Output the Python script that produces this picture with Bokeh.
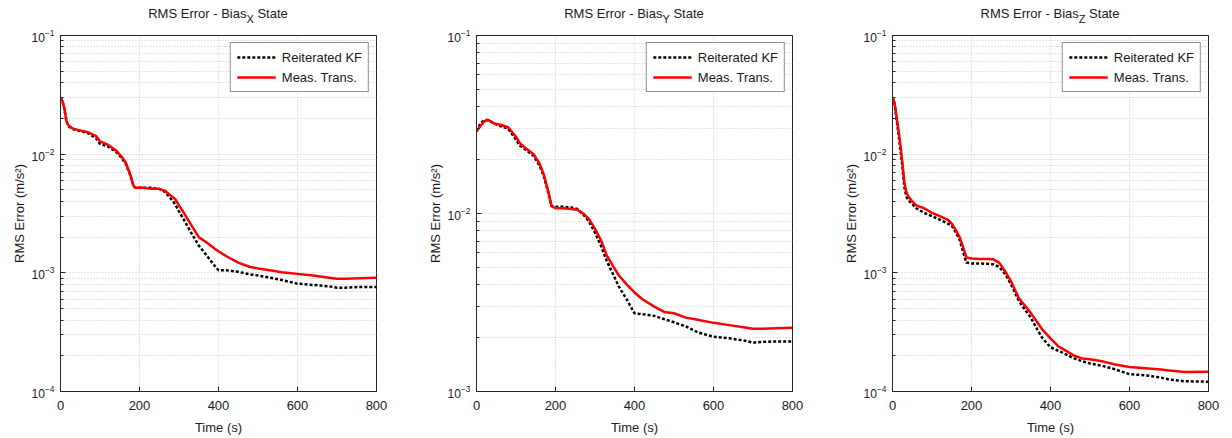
from bokeh.plotting import figure
from bokeh.layouts import row, column
from bokeh.models import FixedTicker, Div
from bokeh.embed import file_html
from bokeh.resources import INLINE

# ---------------- data ----------------
series_names = ["Reiterated KF", "Meas. Trans."]
panel_subs = ["X", "Y", "Z"]
x_ticks = [0, 200, 400, 600, 800]

t_x = [0, 5, 10, 15, 20, 30, 50, 70, 90, 100, 120, 140, 155, 165, 175, 185, 190, 210, 230, 250,
       265, 275, 290, 300, 315, 330, 350, 370, 390, 400, 420, 450, 480, 500, 530, 560, 600, 640,
       680, 700, 720, 760, 800]
mt_x = [0.030, 0.028, 0.024, 0.019, 0.0175, 0.0165, 0.0158, 0.0153, 0.0142, 0.0128, 0.0120, 0.0108,
        0.0095, 0.0085, 0.0070, 0.0054, 0.0052, 0.0052, 0.0051, 0.0051, 0.0049, 0.0046, 0.0042,
        0.0037, 0.0031, 0.00256, 0.0020, 0.0018, 0.0016, 0.00152, 0.00138, 0.00122, 0.00112,
        0.00109, 0.00105, 0.00101, 0.00098, 0.00095, 0.00091, 0.00089, 0.00089, 0.00090, 0.00091]
rkf_x = [0.030, 0.028, 0.024, 0.019, 0.0172, 0.0163, 0.0157, 0.0150, 0.0136, 0.0122, 0.0116, 0.0105,
         0.0093, 0.0083, 0.0069, 0.0054, 0.0052, 0.0052, 0.0052, 0.0051, 0.0048, 0.0044, 0.0038,
         0.0033, 0.0027, 0.0022, 0.0017, 0.0014, 0.00115, 0.00105, 0.00105, 0.00102, 0.00097,
         0.00095, 0.00091, 0.00087, 0.00081, 0.00079, 0.00077, 0.00075, 0.00075, 0.00076, 0.00076]

t_y = [0, 10, 20, 30, 45, 60, 80, 100, 110, 125, 145, 160, 170, 180, 190, 200, 220, 240, 255, 270,
       285, 300, 315, 330, 345, 360, 380, 400, 420, 450, 475, 500, 530, 560, 600, 640, 680, 700,
       720, 760, 800]
mt_y = [0.029, 0.031, 0.033, 0.0335, 0.032, 0.0315, 0.0305, 0.027, 0.0248, 0.0232, 0.0215, 0.019,
        0.0167, 0.0138, 0.0110, 0.0107, 0.0107, 0.0106, 0.0105, 0.0100, 0.0093, 0.0082, 0.0071,
        0.0058, 0.0051, 0.0045, 0.0040, 0.0036, 0.0033, 0.0030, 0.0028, 0.00275, 0.0026, 0.00253,
        0.00243, 0.00236, 0.00229, 0.00225, 0.00225, 0.00227, 0.00228]
rkf_y = [0.029, 0.032, 0.0335, 0.0335, 0.032, 0.031, 0.030, 0.026, 0.0240, 0.0228, 0.021, 0.0185,
         0.0163, 0.0135, 0.0110, 0.0109, 0.0109, 0.0108, 0.0106, 0.0099, 0.0090, 0.0078, 0.0066,
         0.0054, 0.0046, 0.0039, 0.0033, 0.00275, 0.00272, 0.00266, 0.00255, 0.00245, 0.00232,
         0.00215, 0.00203, 0.00199, 0.00193, 0.00188, 0.00190, 0.00191, 0.00191]

t_z = [0, 5, 10, 15, 20, 25, 30, 35, 40, 50, 60, 80, 100, 120, 140, 150, 160, 170, 180, 187, 200,
       220, 240, 255, 270, 285, 300, 320, 335, 350, 365, 380, 400, 420, 440, 460, 480, 500, 530,
       560, 600, 640, 680, 700, 740, 800]
mt_z = [0.030, 0.027, 0.021, 0.016, 0.0120, 0.0085, 0.0058, 0.0048, 0.0044, 0.0040, 0.0037, 0.0035,
        0.0032, 0.0030, 0.0028, 0.0026, 0.0023, 0.0020, 0.0016, 0.00135, 0.00132, 0.00131, 0.00131,
        0.00130, 0.00122, 0.00103, 0.00085, 0.00061, 0.00053, 0.00046, 0.00039, 0.00033, 0.00028,
        0.00024, 0.00022, 0.00020, 0.00019, 0.000187, 0.00018, 0.00017, 0.000161, 0.000157,
        0.000153, 0.00015, 0.000146, 0.000147]
rkf_z = [0.030, 0.027, 0.020, 0.015, 0.0110, 0.0078, 0.0053, 0.0044, 0.0041, 0.0038, 0.0035, 0.0032,
         0.0030, 0.0028, 0.0026, 0.0025, 0.0022, 0.0019, 0.00145, 0.00122, 0.0012, 0.0012, 0.00119,
         0.00118, 0.00112, 0.00098, 0.0008, 0.00058, 0.00049, 0.00042, 0.00034, 0.00028, 0.000236,
         0.00022, 0.000205, 0.00019, 0.00018, 0.000172, 0.000165, 0.000155, 0.00014, 0.000137,
         0.000131, 0.000126, 0.000122, 0.000121]

y_limits = [(1e-4, 1e-1), (1e-3, 1e-1), (1e-4, 1e-1)]

FONT = "Liberation Sans"
AX = "#262626"
GRID = "#c8c8c8"
BL = 60  # left border of each panel


def make_panel(t, rkf, mt, lims, border_right):
    ylo, yhi = lims
    p = figure(frame_width=316, frame_height=356, x_range=(0, 800), y_range=(ylo, yhi),
               y_axis_type="log", output_backend="svg", toolbar_location=None,
               min_border_left=BL, min_border_right=border_right,
               min_border_top=10, min_border_bottom=40)
    p.background_fill_color = "white"
    p.border_fill_color = "white"
    p.outline_line_color = AX
    p.outline_line_alpha = 1.0

    p.line(t, rkf, color="black", line_width=2.5, line_dash="3 2", legend_label=series_names[0])
    p.line(t, mt, color="#ff0000", line_width=2.5, legend_label=series_names[1])

    p.xaxis.ticker = FixedTicker(ticks=x_ticks)
    decades = [10.0 ** e for e in range(-4, 0) if ylo <= 10.0 ** e <= yhi]
    minors = [k * 10.0 ** e for e in range(-4, -1) for k in range(2, 10) if ylo <= k * 10.0 ** e <= yhi]
    p.yaxis.ticker = FixedTicker(ticks=decades, minor_ticks=minors)

    for ax in (p.xaxis[0], p.yaxis[0]):
        ax.axis_line_color = AX
        ax.major_tick_line_color = AX
        ax.minor_tick_line_color = AX
        ax.major_tick_in = 5
        ax.major_tick_out = 0
        ax.minor_tick_in = 3
        ax.minor_tick_out = 0
        ax.major_label_text_font = FONT
        ax.major_label_text_font_size = "13px"
        ax.major_label_text_color = "#1a1a1a"
        ax.axis_label_text_font = FONT
        ax.axis_label_text_font_size = "13px"
        ax.axis_label_text_font_style = "normal"
        ax.axis_label_text_color = "#1a1a1a"
    p.xaxis.minor_tick_line_color = None
    p.xaxis.major_label_standoff = 9
    p.xaxis.axis_label = "Time (s)"
    p.xaxis.axis_label_standoff = 7
    p.yaxis.major_label_text_font_size = "12px"
    p.yaxis.axis_label = "RMS Error (m/s²)"
    p.yaxis.major_label_standoff = 6
    p.yaxis.axis_label_standoff = 2

    p.xgrid.grid_line_color = GRID
    p.xgrid.grid_line_dash = "1 2"
    p.ygrid.grid_line_color = GRID
    p.ygrid.grid_line_dash = "1 2"
    p.ygrid.minor_grid_line_color = GRID
    p.ygrid.minor_grid_line_dash = "1 2"

    lg = p.legend[0]
    lg.location = "top_right"
    lg.margin = 7
    lg.padding = 6
    lg.spacing = 4
    lg.label_height = 16
    lg.glyph_height = 16
    lg.glyph_width = 39
    lg.label_standoff = 6
    lg.label_text_font = FONT
    lg.label_text_font_size = "13px"
    lg.label_text_color = "#1a1a1a"
    lg.border_line_color = AX
    lg.border_line_width = 1
    lg.background_fill_color = "white"
    lg.background_fill_alpha = 1.0
    return p


def make_title(sub, border_right):
    html = ("<div style=\"font-family:'Liberation Sans', Arial, sans-serif; font-size:13px; "
            "line-height:13px; padding-top:7px; text-align:center; width:316px; "
            "white-space:nowrap; color:#1a1a1a;\">RMS Error - Bias"
            "<span style=\"font-family:'Liberation Sans', Arial, sans-serif; font-size:11px; "
            "position:relative; top:5px;\">" + sub + "</span> State</div>")
    return Div(text=html, width=316, height=25, margin=(0, border_right, 0, BL),
               styles={"overflow": "visible", "font-family": "'Liberation Sans', Arial, sans-serif",
                       "font-size": "13px"})


p1 = make_panel(t_x, rkf_x, mt_x, y_limits[0], 40)
p2 = make_panel(t_y, rkf_y, mt_y, y_limits[1], 40)
p3 = make_panel(t_z, rkf_z, mt_z, y_limits[2], 23)

c1 = column(make_title(panel_subs[0], 40), p1, spacing=0)
c2 = column(make_title(panel_subs[1], 40), p2, spacing=0)
c3 = column(make_title(panel_subs[2], 23), p3, spacing=0)

layout = row(c1, c2, c3, spacing=0)
open("out.html", "w").write(file_html(layout, INLINE))
